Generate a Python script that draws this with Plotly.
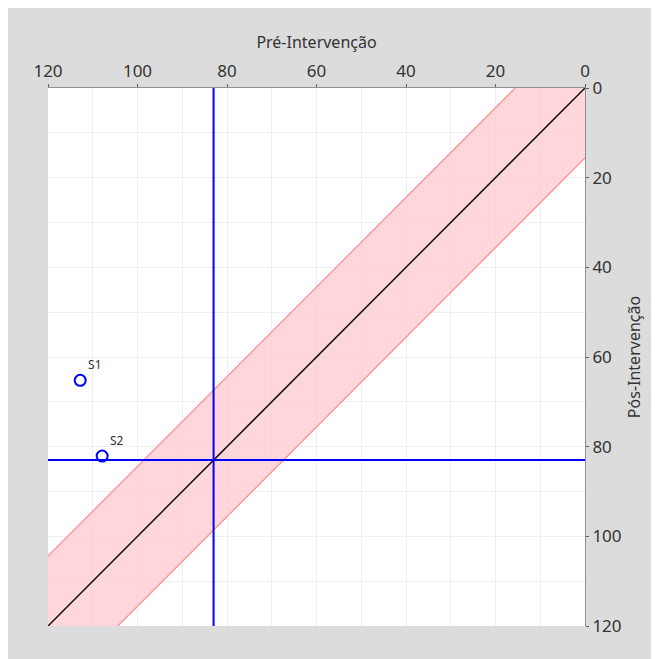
import plotly.graph_objects as go

# Data
labels = ["S1", "S2"]
pre = [112.8, 107.9]
pos = [65.2, 82.1]
cut_pre = 83.0
cut_pos = 83.0
band = 15.6
axis_max = 120
tick_vals = [0, 20, 40, 60, 80, 100, 120]

# page body adds an 8px offset, so the figure is 8px smaller
W, H = 651, 651
L, R, T, B = 40, 74, 80, 33

fig = go.Figure()

# band polygon
bx = [0, band, axis_max, axis_max, axis_max - band, 0, 0]
by = [0, 0, axis_max - band, axis_max, axis_max, band, 0]
fig.add_trace(go.Scatter(x=bx, y=by, mode="lines", fill="toself",
                         fillcolor="rgba(255,200,208,0.75)", line=dict(width=0),
                         hoverinfo="skip", showlegend=False))
# band edges
fig.add_trace(go.Scatter(x=[band, axis_max], y=[0, axis_max - band], mode="lines",
                         line=dict(color="#ff8a8a", width=1.2), showlegend=False))
fig.add_trace(go.Scatter(x=[0, axis_max - band], y=[band, axis_max], mode="lines",
                         line=dict(color="#ff8a8a", width=1.2), showlegend=False))
# diagonal
fig.add_trace(go.Scatter(x=[0, axis_max], y=[0, axis_max], mode="lines",
                         line=dict(color="#111111", width=1.5), showlegend=False))
# cut lines
fig.add_trace(go.Scatter(x=[cut_pre, cut_pre], y=[0, axis_max], mode="lines",
                         line=dict(color="#0000ff", width=2), showlegend=False))
fig.add_trace(go.Scatter(x=[0, axis_max], y=[cut_pos, cut_pos], mode="lines",
                         line=dict(color="#0000ff", width=2), showlegend=False))
# points
fig.add_trace(go.Scatter(x=pre, y=pos, mode="markers+text", text=labels,
                         textposition="top right",
                         textfont=dict(size=12, color="#333333", family="Noto Sans"),
                         marker=dict(symbol="circle-open", size=11,
                                     line=dict(color="#0000ff", width=2), color="#0000ff"),
                         showlegend=False))

axis_common = dict(
    range=[axis_max, 0], tickvals=tick_vals, showgrid=True, gridcolor="#efefef",
    gridwidth=1, zeroline=False, showline=True, linecolor="#909090", linewidth=1,
    ticks="outside", ticklen=3, tickcolor="#606060", automargin=False,
    tickfont=dict(family="Noto Sans", size=17, color="#333333"),
    minor=dict(dtick=10, showgrid=True, gridcolor="#efefef"),
)

fig.update_layout(
    width=W, height=H,
    margin=dict(l=L, r=R, t=T, b=B, pad=0),
    paper_bgcolor="#dcdcdc", plot_bgcolor="white",
    xaxis=dict(side="top", title=dict(text="Pré-Intervenção", standoff=6,
                                      font=dict(family="Noto Sans", size=16, color="#333333")),
               **axis_common),
    yaxis=dict(side="right", title=dict(text="Pós-Intervenção", standoff=8,
                                        font=dict(family="Noto Sans", size=16, color="#333333")),
               **axis_common),
)

fig.write_html("out.html")
